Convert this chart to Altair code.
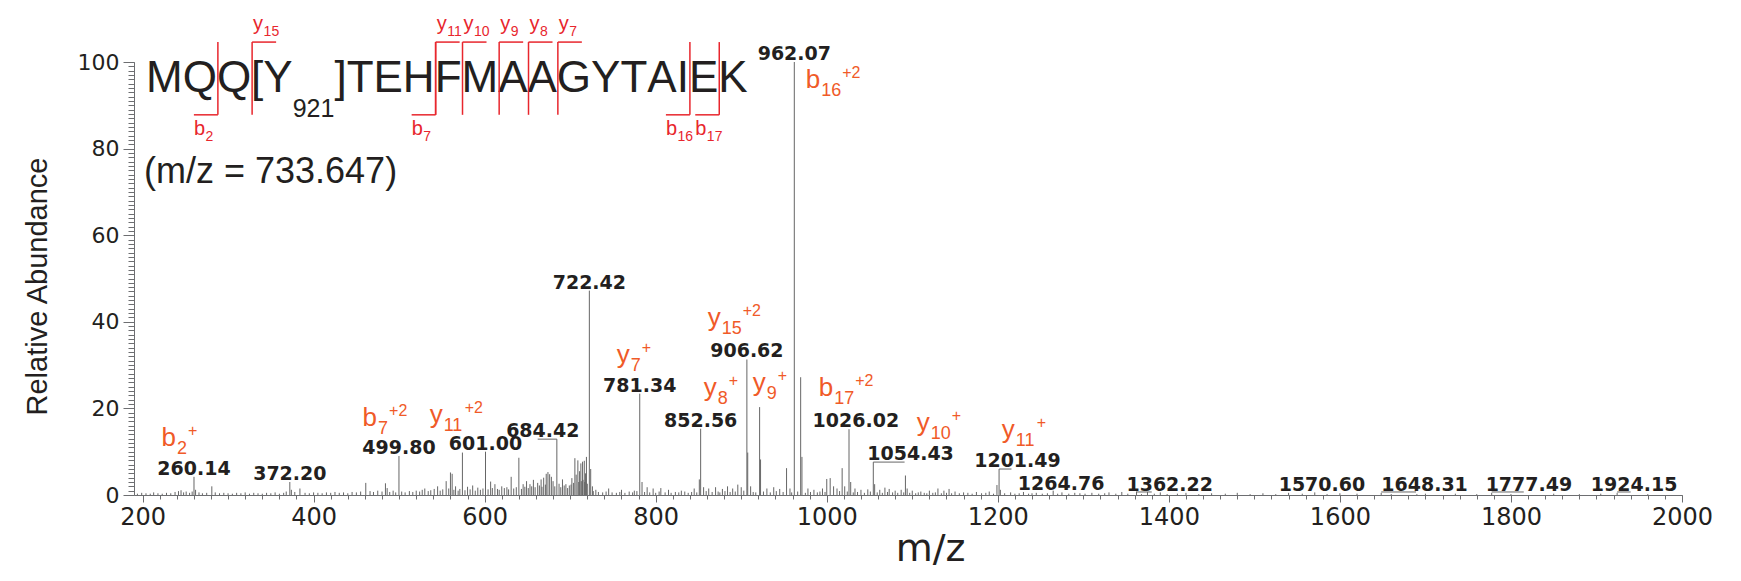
import altair as alt
import pandas as pd

# ---------------- spectrum data (m/z, relative abundance) ----------------
major_mz = [260.14, 372.20, 499.80, 574.0, 601.00, 640.0, 684.42, 705.5, 709.0,
            712.5, 714.5, 716.5, 719.0, 722.42, 781.34, 852.56, 906.62, 907.6,
            921.5, 922.6, 953.0, 962.07, 969.5, 971.0, 1018.0, 1026.02, 1054.43,
            1092.0, 1201.49]
major_int = [4.2, 3.0, 9.0, 9.8, 10.0, 8.6, 12.9, 8.5, 8.0,
             7.3, 7.7, 7.9, 8.8, 47.2, 23.4, 15.3, 31.3, 9.8,
             20.3, 8.2, 6.2, 100.0, 27.2, 8.8, 6.2, 15.2, 7.6,
             4.5, 6.0]

minor_mz = [245, 251, 262, 281, 374, 384, 461, 484, 486, 493,
            530, 545, 555, 560, 562, 566, 580, 586, 592, 607,
            612, 620, 626, 631, 645, 649, 653, 657, 662, 666,
            669, 672, 674, 676, 678, 680, 687, 691, 695, 699,
            702, 707, 711, 718, 724, 726, 730, 745, 760, 775,
            784, 790, 797, 806, 815, 830, 845, 851, 856, 862,
            870, 878, 884, 890, 896, 900, 911, 930, 938, 945,
            957, 978, 985, 995, 1000, 1004, 1008, 1012, 1021, 1028,
            1033, 1040, 1048, 1056, 1062, 1068, 1073, 1080, 1087, 1094,
            1100, 1110, 1120, 1130, 1137, 1143, 1150, 1160, 1175, 1190,
            1199, 1203, 1215, 1230, 1245, 1264.76, 1275, 1290, 1310, 1330,
            1345, 1362.22, 1375, 1390, 1420, 1450, 1480, 1510, 1540, 1570.60,
            1600, 1648.31, 1700, 1777.49, 1850, 1924.15]
minor_int = [1.1, 0.8, 1.2, 2.0, 1.2, 1.5, 2.8, 2.7, 1.6, 1.0,
             1.5, 2.0, 3.2, 5.2, 4.9, 2.0, 1.9, 2.2, 1.7, 3.1,
             2.5, 2.0, 1.8, 4.2, 2.5, 3.2, 2.5, 3.5, 2.8, 3.6,
             4.0, 4.9, 5.3, 4.8, 4.2, 3.2, 2.6, 3.6, 2.5, 2.2,
             3.9, 4.7, 5.5, 5.0, 6.0, 2.0, 1.2, 1.5, 1.2, 1.0,
             3.0, 1.8, 1.5, 1.6, 1.2, 1.0, 1.5, 3.6, 1.8, 1.5,
             1.8, 1.4, 2.0, 1.5, 2.4, 1.8, 2.0, 1.5, 1.8, 1.4,
             1.5, 1.5, 1.2, 1.5, 3.7, 3.9, 2.0, 1.5, 2.0, 3.0,
             1.5, 1.2, 1.3, 2.5, 1.2, 1.7, 1.4, 1.0, 1.2, 1.5,
             1.0, 0.8, 1.0, 1.5, 1.0, 1.4, 0.8, 0.6, 0.7, 0.8,
             2.3, 1.2, 0.6, 0.7, 0.5, 1.0, 0.6, 0.5, 0.5, 0.6,
             0.7, 0.8, 0.7, 0.6, 0.5, 0.4, 0.5, 0.4, 0.5, 0.6,
             0.4, 0.5, 0.3, 0.5, 0.3, 0.5]

noise_mz = [194, 199, 204, 209, 213, 218, 223, 228, 233, 238,
            242, 248, 255, 258, 266, 270, 275, 285, 290, 295,
            300, 305, 310, 315, 320, 325, 330, 335, 340, 345,
            350, 355, 360, 365, 368, 378, 390, 395, 400, 405,
            410, 415, 420, 425, 430, 435, 440, 445, 450, 455,
            466, 470, 475, 480, 489, 496, 503, 507, 512, 516,
            520, 524, 527, 534, 537, 541, 548, 551, 558, 564,
            569, 571, 577, 583, 589, 595, 598, 604, 609, 615,
            617, 623, 628, 634, 637, 643, 647, 651, 655, 659,
            664, 667, 671, 682, 689, 693, 697, 701, 704, 710,
            713, 715, 717, 720, 727, 733, 738, 742, 749, 754,
            758, 764, 769, 773, 778, 787, 793, 800, 804, 811,
            818, 823, 827, 834, 838, 842, 848, 859, 866, 873,
            875, 881, 887, 893, 903, 914, 917, 926, 934, 941,
            949, 959, 966, 975, 981, 989, 992, 998, 1015, 1024,
            1031, 1036, 1044, 1051, 1059, 1065, 1071, 1077, 1083, 1090,
            1097, 1104, 1107, 1114, 1117, 1124, 1127, 1134, 1140, 1146,
            1155, 1165, 1170, 1181, 1186, 1195, 1208, 1220, 1225, 1236,
            1240, 1252, 1258, 1270, 1283, 1296, 1302, 1318, 1325, 1338,
            1352, 1368, 1383, 1398, 1410, 1435, 1466, 1495, 1525, 1556,
            1585, 1620, 1660, 1690, 1735, 1760, 1800, 1880, 1905, 1960]
noise_int = [0.3, 0.5, 0.4, 0.3, 0.6, 0.4, 0.3, 0.5, 0.4, 0.7,
             0.9, 0.6, 0.5, 0.8, 0.6, 0.4, 0.5, 0.6, 0.4, 0.5,
             0.4, 0.3, 0.5, 0.4, 0.6, 0.3, 0.5, 0.4, 0.3, 0.5,
             0.4, 0.6, 0.3, 0.5, 0.8, 0.7, 0.5, 0.4, 0.6, 0.5,
             0.4, 0.6, 0.5, 0.7, 0.5, 0.6, 0.4, 0.7, 0.6, 0.8,
             0.9, 0.7, 1.0, 0.8, 0.7, 0.6, 0.8, 0.6, 0.9, 0.7,
             1.0, 0.8, 1.2, 0.9, 1.1, 1.4, 1.0, 1.3, 1.5, 1.2,
             1.0, 1.4, 1.1, 1.3, 1.0, 1.2, 1.5, 1.3, 1.6, 1.4,
             1.2, 1.6, 1.3, 1.5, 1.8, 1.4, 1.9, 1.6, 2.0, 1.8,
             2.2, 1.9, 2.4, 2.0, 1.8, 2.2, 1.6, 2.4, 2.8, 3.0,
             3.2, 3.5, 3.0, 2.6, 0.9, 0.7, 0.6, 0.8, 0.6, 0.5,
             0.7, 0.5, 0.8, 0.6, 0.9, 0.7, 0.6, 0.5, 0.8, 0.6,
             0.5, 0.7, 0.6, 0.8, 0.5, 0.7, 0.6, 0.9, 0.7, 0.8,
             0.6, 0.9, 0.7, 0.8, 1.0, 0.7, 0.6, 0.8, 0.6, 0.9,
             0.7, 0.6, 0.8, 0.5, 0.7, 0.6, 0.8, 0.7, 0.9, 0.8,
             0.6, 0.7, 0.5, 0.8, 0.6, 0.5, 0.7, 0.6, 0.5, 0.6,
             0.5, 0.4, 0.6, 0.5, 0.4, 0.5, 0.6, 0.4, 0.5, 0.4,
             0.4, 0.5, 0.3, 0.4, 0.5, 0.3, 0.4, 0.3, 0.4, 0.3,
             0.4, 0.3, 0.4, 0.3, 0.3, 0.4, 0.3, 0.3, 0.4, 0.3,
             0.3, 0.2, 0.3, 0.2, 0.3, 0.2, 0.3, 0.2, 0.2, 0.3,
             0.2, 0.3, 0.2, 0.2, 0.3, 0.2, 0.2, 0.2, 0.3, 0.2]

# ---------------- peak m/z annotations (black) ----------------
peak_label_text = ["260.14", "372.20", "499.80", "601.00", "684.42", "722.42", "781.34",
                   "852.56", "906.62", "962.07", "1026.02", "1054.43", "1201.49", "1264.76",
                   "1362.22", "1570.60", "1648.31", "1777.49", "1924.15"]
peak_label_mz = [260.14, 372.20, 499.80, 601.00, 668.0, 722.42, 781.34,
                 852.56, 906.62, 962.07, 1034.0, 1098.0, 1223.0, 1274.0,
                 1401.0, 1579.0, 1699.0, 1821.0, 1944.0]
peak_label_level = [4.2, 3.0, 9.0, 10.0, 12.9, 47.2, 23.4,
                    15.3, 31.3, 100.0, 15.2, 7.6, 6.0, 0.7,
                    0.5, 0.5, 0.5, 0.5, 0.5]

leader_from = [662.0, 1054.43, 1201.49, 1362.22, 1648.31, 1777.49, 1924.15]
leader_to = [684.42, 1091.0, 1216.0, 1380.0, 1689.0, 1815.0, 1940.0]
leader_level = [12.9, 7.6, 6.0, 0.7, 0.7, 0.7, 0.7]

# ---------------- fragment ion annotations (orange) ----------------
ion_series = ["b", "b", "y", "y", "y", "y", "y", "b", "b", "y", "y"]
ion_number = ["2", "7", "11", "7", "8", "9", "15", "16", "17", "10", "11"]
ion_charge = ["+", "+2", "+2", "+", "+", "+", "+2", "+2", "+2", "+", "+"]
ion_label_mz = [222.2, 457.3, 535.7, 754.4, 856.1, 913.5, 860.8, 975.4, 990.6, 1105.3, 1204.7]
ion_label_level = [11.3, 16.0, 16.6, 30.4, 22.8, 24.0, 39.0, 94.0, 22.8, 14.8, 13.1]

# ---------------- peptide ----------------
peptide = "MQQYTEHFMAAGYTAIEK"
site_index = 3
site_label = "921"
bracket_series = ["b", "y", "b", "y", "y", "y", "y", "y", "b", "b"]
bracket_number = [2, 15, 7, 11, 10, 9, 8, 7, 16, 17]
precursor_text = "(m/z = 733.647)"

# ---------------- styles ----------------
SANS = "Liberation Sans"
WIDE_FONT = "DejaVu Sans"
ORANGE = "#F05A28"
RED = "#E8262D"
INK = "#231F20"
AXIS_GREY = "#6D6E71"
PEAK_GREY = "#666666"

W, H = 1548, 433
XD = [190, 2000]


def xs():
    return alt.Scale(domain=XD, nice=False, zero=False)


def ys():
    return alt.Scale(domain=[0, 100], nice=False, zero=False)


peaks = pd.DataFrame(
    [(m, v) for m, v in zip(major_mz, major_int)]
    + [(m, v) for m, v in zip(minor_mz, minor_int)]
    + [(m, v) for m, v in zip(noise_mz, noise_int)],
    columns=["mz", "intensity"],
)

spectrum = alt.Chart(peaks).transform_calculate(base="0").mark_rule(
    color=PEAK_GREY, strokeWidth=1
).encode(
    x=alt.X("mz:Q", scale=xs(), axis=alt.Axis(
        orient="bottom", values=list(range(200, 2001, 200)), format="d", grid=False,
        tickSize=7, tickColor=AXIS_GREY, domainColor=AXIS_GREY, tickWidth=1,
        labelFont=WIDE_FONT, labelFontSize=24, labelColor=INK, labelPadding=3,
        labelFlush=False, labelOverlap=False,
        title="m/z", titleFont=WIDE_FONT, titleFontSize=38, titleFontWeight="normal",
        titleColor=INK, titleX=796, titleY=65, titleAlign="center",
        titleBaseline="alphabetic")),
    y=alt.Y("intensity:Q", scale=ys(), axis=alt.Axis(
        orient="left", values=[0, 20, 40, 60, 80, 100], format="d", grid=False,
        tickSize=11, tickColor=AXIS_GREY, domainColor=AXIS_GREY,
        labelFont=WIDE_FONT, labelFontSize=22, labelColor=INK, labelPadding=4,
        labelFlush=False, labelOverlap=False,
        title="Relative Abundance", titleFont=SANS, titleFontSize=29,
        titleFontWeight="normal", titleColor=INK, titleAngle=270, titleX=-88,
        titleY=224, titleAlign="center", titleBaseline="alphabetic")),
    y2="base:Q",
)

minor_x = alt.Chart(peaks).mark_rule(opacity=0).encode(
    x=alt.X("mz:Q", scale=xs(), axis=alt.Axis(
        orient="bottom", values=list(range(200, 2001, 20)), labels=False, domain=False,
        grid=False, tickSize=4, tickColor=AXIS_GREY, title=None)),
)
minor_y = alt.Chart(peaks).mark_rule(opacity=0).encode(
    y=alt.Y("intensity:Q", scale=ys(), axis=alt.Axis(
        orient="left", values=list(range(0, 101, 1)), labels=False, domain=False,
        grid=False, tickSize=6, tickColor=AXIS_GREY, title=None)),
)

labels_df = pd.DataFrame({"text": peak_label_text, "mz": peak_label_mz, "level": peak_label_level})
peak_labels = alt.Chart(labels_df).mark_text(
    font=WIDE_FONT, fontWeight="bold", fontSize=19, color=INK,
    align="center", baseline="alphabetic", dy=-2
).encode(
    x=alt.X("mz:Q", scale=xs(), axis=None),
    y=alt.Y("level:Q", scale=ys(), axis=None),
    text="text:N",
)

leaders_df = pd.DataFrame({"a": leader_from, "b": leader_to, "level": leader_level})
leaders = alt.Chart(leaders_df).mark_rule(color=PEAK_GREY, strokeWidth=1).encode(
    x=alt.X("a:Q", scale=xs(), axis=None),
    x2="b:Q",
    y=alt.Y("level:Q", scale=ys(), axis=None),
)

# fragment ion labels
LOWER_W = {"b": 556, "y": 500}
ION_FS, ION_SUB_FS, ION_SUP_FS = 26, 18, 16
ions_df = pd.DataFrame({"series": ion_series, "num": ion_number, "charge": ion_charge,
                        "mz": ion_label_mz, "level": ion_label_level})
ions_df["key"] = ions_df["series"] + ions_df["num"].str.len().astype(str)

ion_x = alt.X("mz:Q", scale=xs(), axis=None)
ion_y = alt.Y("level:Q", scale=ys(), axis=None)
ion_layers = [alt.Chart(ions_df).mark_text(
    font=SANS, fontSize=ION_FS, color=ORANGE, align="left", baseline="alphabetic"
).encode(x=ion_x, y=ion_y, text="series:N")]
for key in sorted(ions_df["key"].unique()):
    s, n = key[0], int(key[1:])
    wb = LOWER_W[s] / 1000 * ION_FS + 1
    wsub = n * 556 / 1000 * ION_SUB_FS + 1
    sel = alt.Chart(ions_df).transform_filter(alt.datum.key == key)
    ion_layers.append(sel.mark_text(
        font=SANS, fontSize=ION_SUB_FS, color=ORANGE, align="left",
        baseline="alphabetic", dx=wb, dy=8).encode(x=ion_x, y=ion_y, text="num:N"))
    ion_layers.append(sel.mark_text(
        font=SANS, fontSize=ION_SUP_FS, color=ORANGE, align="left",
        baseline="alphabetic", dx=wb + wsub, dy=-10).encode(x=ion_x, y=ion_y, text="charge:N"))

# ---------------- peptide sequence layout (Arial/Liberation advance widths) ----------------
AW = {"M": 833, "Q": 778, "[": 278, "Y": 667, "]": 278, "T": 611, "E": 667, "H": 722,
      "F": 611, "A": 667, "G": 778, "I": 278, "K": 667, "0": 556, "1": 556, "2": 556,
      "3": 556, "4": 556, "5": 556, "6": 556, "7": 556, "8": 556, "9": 556}
SEQ_FS, SITE_FS = 44, 25


def adv(txt, fs):
    return sum(AW[c] for c in txt) / 1000 * fs


tokens = []
pos = 0.0
res_end = []
for i, aa in enumerate(peptide):
    if i == site_index:
        tokens.append(("[", pos, "main")); pos += adv("[", SEQ_FS)
        tokens.append((aa, pos, "main")); pos += adv(aa, SEQ_FS)
        tokens.append((site_label, pos, "site")); pos += adv(site_label, SITE_FS)
        tokens.append(("]", pos, "main")); pos += adv("]", SEQ_FS)
    else:
        tokens.append((aa, pos, "main")); pos += adv(aa, SEQ_FS)
    res_end.append(pos)

seq_df = pd.DataFrame(tokens, columns=["ch", "px", "kind"])
seq_df["level"] = [93.1 if k == "main" else 87.3 for k in seq_df["kind"]]

seq_scale = alt.Scale(domain=[0, 1000], range=[12, 1012], nice=False, zero=False)


def sx(f):
    return alt.X(f, scale=seq_scale, axis=None)


def sy(f):
    return alt.Y(f, scale=ys(), axis=None)


seq_main = alt.Chart(seq_df).transform_filter(alt.datum.kind == "main").mark_text(
    font=SANS, fontSize=SEQ_FS, color=INK, align="left", baseline="alphabetic"
).encode(x=sx("px:Q"), y=sy("level:Q"), text="ch:N")
seq_site = alt.Chart(seq_df).transform_filter(alt.datum.kind == "site").mark_text(
    font=SANS, fontSize=SITE_FS, color=INK, align="left", baseline="alphabetic"
).encode(x=sx("px:Q"), y=sy("level:Q"), text="ch:N")

ARM = 24
TOP, BOT = 104.6, 87.8
rows = []
for s, n in zip(bracket_series, bracket_number):
    cut = n if s == "b" else len(peptide) - n
    bx = res_end[cut - 1] + 1
    if s == "y":
        rows.append(dict(series=s, num=str(n), x=bx, hx1=bx, hx2=bx + ARM, hy=TOP,
                         lx=bx + 1, ly=107.4))
    else:
        rows.append(dict(series=s, num=str(n), x=bx, hx1=bx - ARM, hx2=bx, hy=BOT,
                         lx=bx - ARM, ly=83.1))
br_df = pd.DataFrame(rows)
br_df["top"] = TOP
br_df["bot"] = BOT

br_vert = alt.Chart(br_df).mark_rule(color=RED, strokeWidth=1.5).encode(
    x=sx("x:Q"), y=sy("bot:Q"), y2="top:Q")
br_horiz = alt.Chart(br_df).mark_rule(color=RED, strokeWidth=1.5).encode(
    x=sx("hx1:Q"), x2="hx2:Q", y=sy("hy:Q"))

BR_FS, BR_SUB_FS = 20, 14
br_layers = [br_vert, br_horiz]
for s in ["b", "y"]:
    sel = alt.Chart(br_df).transform_filter(alt.datum.series == s)
    br_layers.append(sel.mark_text(
        font=SANS, fontSize=BR_FS, color=RED, align="left", baseline="alphabetic"
    ).encode(x=sx("lx:Q"), y=sy("ly:Q"), text="series:N"))
    br_layers.append(sel.mark_text(
        font=SANS, fontSize=BR_SUB_FS, color=RED, align="left", baseline="alphabetic",
        dx=LOWER_W[s] / 1000 * BR_FS + 0.5, dy=6
    ).encode(x=sx("lx:Q"), y=sy("ly:Q"), text="num:N"))

prec_df = pd.DataFrame({"text": [precursor_text], "px": [-2.0], "level": [72.1]})
prec = alt.Chart(prec_df).mark_text(
    font=SANS, fontSize=36, color=INK, align="left", baseline="alphabetic"
).encode(x=sx("px:Q"), y=sy("level:Q"), text="text:N")

chart = alt.layer(
    minor_x, minor_y, spectrum, leaders, peak_labels, *ion_layers,
    seq_main, seq_site, *br_layers, prec
).resolve_scale(x="independent", y="independent").resolve_axis(
    x="independent", y="independent"
).properties(
    width=W, height=H,
    autosize=alt.AutoSizeParams(type="none"),
    padding={"left": 126, "top": 54, "right": 40, "bottom": 78},
    background="white",
).configure_view(stroke=None)

chart.save("out.html", embed_options={"renderer": "svg", "actions": False})
